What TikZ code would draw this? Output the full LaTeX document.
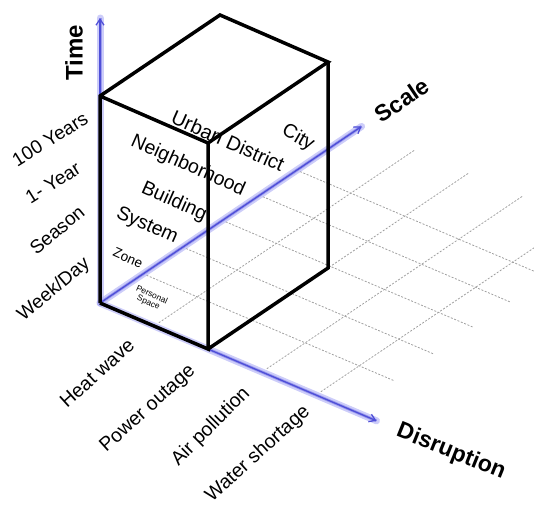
\documentclass[tikz,border=0pt]{standalone}
\usepackage{fontspec}
\setmainfont{Liberation Sans}
\usetikzlibrary{arrows.meta,calc}
\definecolor{axblue}{RGB}{78,78,215}
\definecolor{axglow}{RGB}{172,172,245}
\definecolor{gridgray}{RGB}{160,160,160}
\begin{document}
\begin{tikzpicture}[x=1pt,y=-1pt,
  glow/.style={draw=axglow, line width=7pt, line cap=round, opacity=0.6},
  glowmid/.style={draw=axglow!60!axblue, line width=3pt, opacity=0.7},
  axis/.style={draw=axblue, line width=1.3pt, -{Straight Barb[length=6pt,width=8pt]}},
  cube/.style={draw=black, line width=3.5pt, line join=miter},
  gridline/.style={draw=gridgray, line width=0.8pt, dash pattern=on 2pt off 1.6pt},
  lab/.style={font=\fontsize{19}{19}\selectfont, inner sep=0pt},
  blab/.style={font=\fontsize{19.5}{19.5}\selectfont, inner sep=0pt},
  inlab/.style={font=\fontsize{19.5}{19.5}\selectfont, inner sep=0pt, rotate=-24},
  axlab/.style={font=\fontsize{23}{23}\selectfont\bfseries, inner sep=0pt}]
\useasboundingbox (0,0) rectangle (534,504);
% key points
\coordinate (O) at (100,303);
\coordinate (B) at (208,349);
\coordinate (E) at (328,268);
\coordinate (A) at (100,96);
\coordinate (C) at (208,143);
\coordinate (D) at (328,62);
\coordinate (T) at (220,15);
\coordinate (TT) at (100,18);
\coordinate (ST) at (361.6,126.4);
\coordinate (DT) at (376.5,420.8);
% grid
\begin{scope}
\clip (0,0) rectangle (534,504);
\begin{scope}[x={(108pt,-46pt)}, y={(120pt,81pt)}, shift={(100pt,-303pt)}]
  \foreach \s in {0.36,0.69,1.02,1.33,1.64} \draw[gridline] (0.03,\s) -- (2.33,\s);
  \foreach \d in {0.5,1,1.5,2} \draw[gridline] (\d,0.04) -- (\d,2.17);
\end{scope}
\end{scope}
% labels in cube
\node[inlab, font=\fontsize{20}{20}\selectfont] (ud) at (228,141) {Urban District};
\node[inlab, rotate=-6] (city) at (298,138) {City};
\node[inlab] (nb) at (188,166) {Neighborhood};
\node[inlab] (bd) at (174,202) {Building};
\node[inlab] (sy) at (147,226) {System};
\node[inlab, font=\fontsize{13.5}{13.5}\selectfont] (zo) at (128,258) {Zone};
\node[inlab, font=\fontsize{8.5}{8.5}\selectfont, align=center] (ps) at (150,299) {Personal\\Space};
% time labels
\node[lab, rotate=32] (y100) at (50,139) {100 Years};
\node[lab, rotate=32] (y1) at (53,183) {1- Year};
\node[lab, rotate=40] (sea) at (57,230) {Season};
\node[lab, rotate=40] (wd) at (54,290) {Week/Day};
% disruption labels
\node[blab, rotate=42] (hw) at (97,373) {Heat wave};
\node[blab, rotate=42] (po) at (148,409) {Power outage};
\node[blab, rotate=45] (ap) at (211,427) {Air pollution};
\node[blab, rotate=42] (ws) at (258,454) {Water shortage};
% axis labels
\node[axlab, rotate=90, font=\fontsize{24}{24}\selectfont\bfseries] (time) at (74,53) {Time};
\node[axlab, rotate=34] (scale) at (402,100) {Scale};
\node[axlab, rotate=-22] (dis) at (451,452) {Disruption};
% axes
\foreach \t in {TT,ST,DT} {
  \draw[glow] (O) -- (\t);
  \draw[glowmid] (O) -- (\t);
}
\draw[axis] (O) -- (TT);
\draw[axis] (O) -- (ST);
\draw[axis] (O) -- (DT);
% cube
\draw[cube] (O) -- (A) -- (T) -- (D) -- (C) -- (A);
\draw[cube] (C) -- (B) -- (O);
\draw[cube] (B) -- (E) -- (D);
\end{tikzpicture}
\end{document}
